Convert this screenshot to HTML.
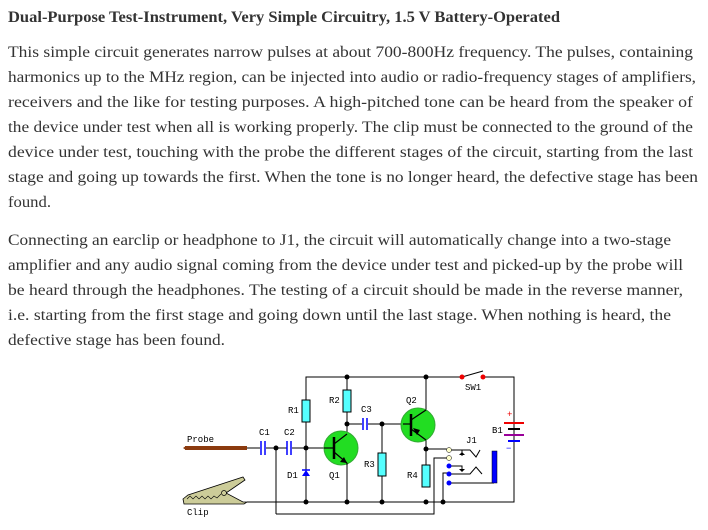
<!DOCTYPE html>
<html><head><meta charset="utf-8"><style>
html,body{margin:0;padding:0;background:#fff;width:708px;height:530px;overflow:hidden}
svg{display:block}
.t{font-family:"Liberation Serif",serif;font-size:15.5px;fill:#333}
.h{font-family:"Liberation Serif",serif;font-size:15.5px;font-weight:bold;fill:#333}
.m{font-family:"Liberation Mono",monospace;font-size:9px;fill:#000}
</style></head><body>
<svg width="708" height="530" viewBox="0 0 708 530" xmlns="http://www.w3.org/2000/svg">
<text class="h" x="8" y="22" textLength="552" lengthAdjust="spacingAndGlyphs">Dual-Purpose Test-Instrument, Very Simple Circuitry, 1.5 V Battery-Operated</text>
<text class="t" x="8" y="57" textLength="685" lengthAdjust="spacingAndGlyphs">This simple circuit generates narrow pulses at about 700-800Hz frequency. The pulses, containing</text>
<text class="t" x="8" y="82" textLength="688" lengthAdjust="spacingAndGlyphs">harmonics up to the MHz region, can be injected into audio or radio-frequency stages of amplifiers,</text>
<text class="t" x="8" y="107" textLength="685" lengthAdjust="spacingAndGlyphs">receivers and the like for testing purposes. A high-pitched tone can be heard from the speaker of</text>
<text class="t" x="8" y="132" textLength="685" lengthAdjust="spacingAndGlyphs">the device under test when all is working properly. The clip must be connected to the ground of the</text>
<text class="t" x="8" y="157" textLength="685" lengthAdjust="spacingAndGlyphs">device under test, touching with the probe the different stages of the circuit, starting from the last</text>
<text class="t" x="8" y="182" textLength="690" lengthAdjust="spacingAndGlyphs">stage and going up towards the first. When the tone is no longer heard, the defective stage has been</text>
<text class="t" x="8" y="207" textLength="43" lengthAdjust="spacingAndGlyphs">found.</text>
<text class="t" x="8" y="245" textLength="663" lengthAdjust="spacingAndGlyphs">Connecting an earclip or headphone to J1, the circuit will automatically change into a two-stage</text>
<text class="t" x="8" y="270" textLength="675" lengthAdjust="spacingAndGlyphs">amplifier and any audio signal coming from the device under test and picked-up by the probe will</text>
<text class="t" x="8" y="295" textLength="675" lengthAdjust="spacingAndGlyphs">be heard through the headphones. The testing of a circuit should be made in the reverse manner,</text>
<text class="t" x="8" y="320" textLength="663" lengthAdjust="spacingAndGlyphs">i.e. starting from the first stage and going down until the last stage. When nothing is heard, the</text>
<text class="t" x="8" y="345" textLength="217" lengthAdjust="spacingAndGlyphs">defective stage has been found.</text>

<g stroke="#000" stroke-width="1" fill="none">
<polyline points="306,448 306,377 462,377"/>
<polyline points="483,377 514,377 514,502 247,502"/>
<line x1="347" y1="377" x2="347" y2="424"/>
<line x1="426" y1="377" x2="426" y2="487"/>
<line x1="247" y1="448" x2="260" y2="448"/>
<line x1="266" y1="448" x2="287" y2="448"/>
<line x1="292" y1="448" x2="324" y2="448"/>
<line x1="306" y1="448" x2="306" y2="502"/>
<line x1="276" y1="448" x2="276" y2="514"/>
<polyline points="276,514 434,514 434,458 449,458"/>
<polyline points="426,449 449,449"/>
<line x1="347" y1="424" x2="347" y2="502"/>
<line x1="347" y1="424" x2="362" y2="424"/>
<line x1="368" y1="424" x2="403" y2="424"/>
<line x1="382" y1="424" x2="382" y2="502"/>
<polyline points="443,502 443,473 449,473"/>
<polyline points="449,483 494,483"/>
<polyline points="449,450 470,450 476,457 480,450"/>
<polyline points="449,466 462,466 462,470"/>
<polyline points="449,474 470,474 476,467 482,474"/>
<line x1="462" y1="450" x2="462" y2="456"/>
<line x1="462" y1="377" x2="483" y2="371"/>
</g>
<g stroke="#00f" stroke-width="1.5">
<line x1="261" y1="441" x2="261" y2="455"/><line x1="265" y1="441" x2="265" y2="455"/>
<line x1="287" y1="441" x2="287" y2="455"/><line x1="291" y1="441" x2="291" y2="455"/>
<line x1="363" y1="418" x2="363" y2="430"/><line x1="367" y1="418" x2="367" y2="430"/>
</g>
<g fill="#5ff" stroke="#000">
<rect x="302" y="400" width="8" height="22"/>
<rect x="343" y="390" width="8" height="22"/>
<rect x="378" y="453" width="8" height="23"/>
<rect x="422" y="465" width="8" height="22"/>
</g>
<circle cx="341" cy="448" r="17" fill="#2d2" stroke="#3a3"/>
<g stroke="#000" stroke-width="2.5"><line x1="334" y1="437" x2="334" y2="459"/></g>
<g stroke="#000" stroke-width="1.2" fill="none">
<line x1="324" y1="448" x2="334" y2="448"/>
<line x1="334" y1="444" x2="347" y2="434"/><line x1="334" y1="452" x2="347" y2="463"/>
<line x1="347" y1="463" x2="347" y2="465"/>
</g>
<polygon points="347,463 340,462 344,457" fill="#000"/>
<circle cx="418" cy="425" r="17" fill="#2d2" stroke="#3a3"/>
<g stroke="#000" stroke-width="2.5"><line x1="411" y1="414" x2="411" y2="436"/></g>
<g stroke="#000" stroke-width="1.2"><line x1="403" y1="424" x2="411" y2="424"/>
<line x1="411" y1="420" x2="426" y2="410"/><line x1="411" y1="429" x2="426" y2="440"/></g>
<polygon points="413,428 420,430 417,435" fill="#000"/>
<polygon points="302,476 310,476 306,470" fill="#00f"/>
<line x1="302" y1="470" x2="310" y2="470" stroke="#00f" stroke-width="1.5"/>
<g fill="#000">
<circle cx="347" cy="377" r="2.5"/><circle cx="426" cy="377" r="2.5"/>
<circle cx="276" cy="448" r="2.5"/><circle cx="306" cy="448" r="2.5"/>
<circle cx="347" cy="424" r="2.5"/><circle cx="382" cy="424" r="2.5"/>
<circle cx="426" cy="449" r="2.5"/>
<circle cx="306" cy="502" r="2.5"/><circle cx="347" cy="502" r="2.5"/><circle cx="382" cy="502" r="2.5"/>
<circle cx="426" cy="502" r="2.5"/><circle cx="443" cy="502" r="2.5"/>
</g>
<circle cx="462" cy="377" r="2.5" fill="#e00"/><circle cx="483" cy="377" r="2.5" fill="#e00"/>
<circle cx="449" cy="450" r="2.5" fill="#ffc" stroke="#000" stroke-width=".5"/>
<circle cx="449" cy="458" r="2.5" fill="#ffc" stroke="#000" stroke-width=".5"/>
<circle cx="449" cy="466" r="2.5" fill="#00f"/><circle cx="449" cy="474" r="2.5" fill="#00f"/><circle cx="449" cy="483" r="2.5" fill="#00f"/>
<polygon points="459,455 465,455 462,452" fill="#000"/>
<polygon points="459,469 465,469 462,472" fill="#000"/>
<rect x="492" y="451" width="5" height="32" fill="#00f" stroke="#000" stroke-width=".5"/>
<rect x="504" y="422" width="20" height="2" fill="#e00"/>
<rect x="508" y="428" width="12" height="2" fill="#000"/>
<rect x="504" y="434" width="20" height="2" fill="#909"/>
<rect x="508" y="440" width="12" height="2" fill="#00f"/>
<text x="507" y="417" font-family="Liberation Mono" font-size="9" fill="#e00">+</text>
<text x="506" y="451" font-family="Liberation Mono" font-size="9" fill="#00f">−</text>
<rect x="185" y="446" width="62" height="4" fill="#8b3a0e"/>
<polygon points="183,448 186,446 186,450" fill="#8b3a0e"/>
<!-- clip -->
<polygon points="183,499 188,495 243,477 245,480 226,493 243,502 247,502 244,504 184,504" fill="#cc9" stroke="#000" stroke-width=".8"/>
<polyline points="187,499 190,496 193,499 196,496 199,499 202,496 205,499 208,496 211,499 214,496 217,498 221,494" fill="none" stroke="#000" stroke-width=".6"/>
<circle cx="224" cy="493" r="2.5" fill="#cc9" stroke="#000" stroke-width=".7"/>
<text class="m" x="187" y="442">Probe</text>
<text class="m" x="187" y="515">Clip</text>
<text class="m" x="259" y="435">C1</text><text class="m" x="284" y="435">C2</text>
<text class="m" x="288" y="413">R1</text><text class="m" x="329" y="403">R2</text>
<text class="m" x="361" y="412">C3</text><text class="m" x="406" y="403">Q2</text>
<text class="m" x="287" y="478">D1</text><text class="m" x="329" y="478">Q1</text>
<text class="m" x="364" y="467">R3</text><text class="m" x="407" y="478">R4</text>
<text class="m" x="465" y="390">SW1</text><text class="m" x="492" y="433">B1</text>
<text class="m" x="466" y="443">J1</text>
</svg>
</body></html>
